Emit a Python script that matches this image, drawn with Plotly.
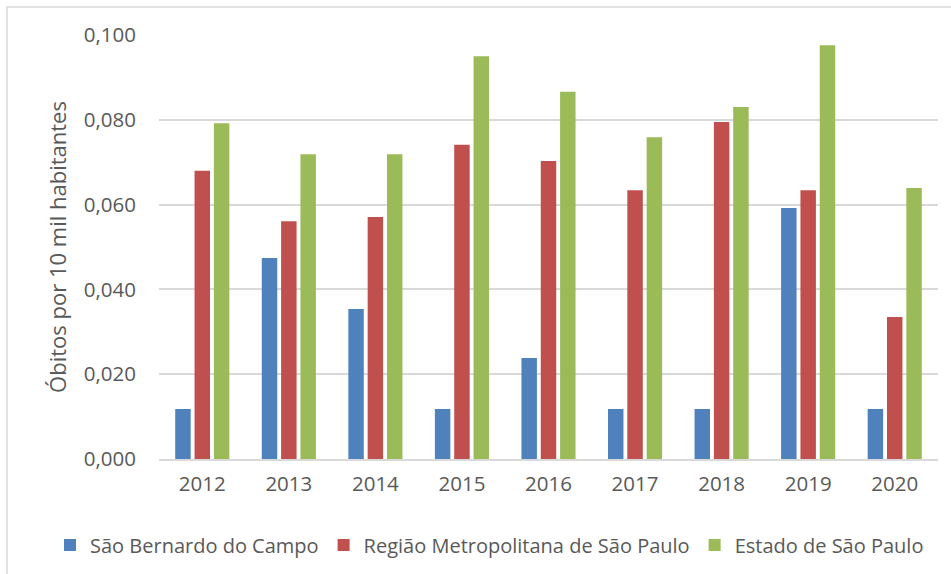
import plotly.graph_objects as go

years = ["2012", "2013", "2014", "2015", "2016", "2017", "2018", "2019", "2020"]
sao_bernardo = [0.0118, 0.0474, 0.0354, 0.0118, 0.0238, 0.0118, 0.0118, 0.0592, 0.0118]
regiao_metropolitana = [0.0680, 0.0561, 0.0571, 0.0741, 0.0703, 0.0634, 0.0795, 0.0634, 0.0335]
estado_sp = [0.0792, 0.0719, 0.0719, 0.0950, 0.0866, 0.0759, 0.0830, 0.0976, 0.0639]

series_names = ["São Bernardo do Campo", "Região Metropolitana de São Paulo", "Estado de São Paulo"]
colors = ["#4F81BD", "#C0504D", "#9BBB59"]

fig = go.Figure()
for name, vals, col in zip(series_names, [sao_bernardo, regiao_metropolitana, estado_sp], colors):
    fig.add_trace(go.Bar(x=years, y=vals, name=name, marker=dict(color=col, line=dict(width=0))))

W, H = 951, 574
ml, mr, mt, mb = 159, 13, 35, 115
pw, ph = W - ml - mr, H - mt - mb

fig.update_layout(
    width=W, height=H,
    margin=dict(l=ml, r=mr, t=mt, b=mb, autoexpand=False),
    paper_bgcolor="white", plot_bgcolor="white",
    barmode="group", bargap=0.33, bargroupgap=0.2,
    separators=",.",
    font=dict(family="Open Sans, sans-serif", color="#595959", size=20),
    showlegend=True,
    legend=dict(orientation="h", x=(50 - ml) / pw, xanchor="left",
                y=-(545 - (H - mb)) / ph, yanchor="middle",
                font=dict(size=20, color="#595959"), itemwidth=30, traceorder="normal"),
    yaxis=dict(range=[0, 0.1], dtick=0.02, tickformat=".3f", showgrid=True,
               gridcolor="#D9D9D9", gridwidth=1.5, zeroline=False, showline=False,
               ticks="", ticklen=0, tickfont=dict(size=20.5), ticklabelstandoff=22,
               automargin=False,
               title=dict(text="Óbitos por 10 mil habitantes", font=dict(size=22), standoff=11)),
    xaxis=dict(showgrid=False, showline=True, linecolor="#D9D9D9", linewidth=1.5,
               ticks="", tickfont=dict(size=20.5), ticklabelstandoff=6, automargin=False),
    shapes=[dict(type="rect", xref="paper", yref="paper",
                 x0=(7 - ml) / pw, x1=1 + (mr + 20) / pw,
                 y0=-(mb + 20) / ph, y1=1 + (mt - 7) / ph,
                 line=dict(color="#D9D9D9", width=1.5), fillcolor="rgba(0,0,0,0)", layer="below")],
)

fig.write_html("out.html", config={"displayModeBar": False},
               post_script="document.body.style.margin='0';")
